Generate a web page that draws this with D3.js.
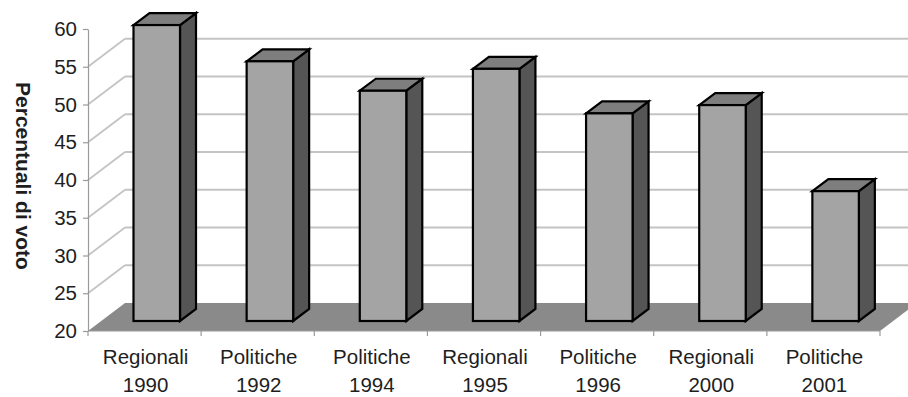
<!DOCTYPE html>
<html>
<head>
<meta charset="utf-8">
<script src="https://cdn.jsdelivr.net/npm/d3@7"></script>
<style>
  html, body { margin: 0; padding: 0; background: #fff; }
  svg { display: block; }
  text { font-family: "Liberation Sans", Arial, sans-serif; fill: #1e1e1e; }
</style>
</head>
<body>
<svg id="chart" width="908" height="397"></svg>
<script>
// ---- data ----
const categoryType = ["Regionali", "Politiche", "Politiche", "Regionali", "Politiche", "Regionali", "Politiche"];
const categoryYear = ["1990", "1992", "1994", "1995", "1996", "2000", "2001"];
const values = [59.2, 54.4, 50.5, 53.4, 47.5, 48.6, 37.2];
const yTicks = [20, 25, 30, 35, 40, 45, 50, 55, 60];
const yTitle = "Percentuali di voto";

// ---- layout ----
const W = 908, H = 397;
const plotLeft = 88, plotRight = 880, plotBottom = 331, plotTop = 29;
const depthX = 37, depthY = 28;          // floor / wall depth
const barZy = 10;                        // bar front face offset (y)
const barDx = 16, barDy = 12;            // bar depth
const barOffset = 45.5, barW = 46.5;

const svg = d3.select("#chart");
const cats = categoryType.map((t, i) => t + " " + categoryYear[i]);

const y = d3.scaleLinear().domain([20, 60]).range([plotBottom, plotTop]);
const x = d3.scaleBand().domain(cats).range([plotLeft, plotRight]);

// floor
svg.append("polygon")
  .attr("points", [[plotLeft, plotBottom], [plotRight, plotBottom], [plotRight + depthX, plotBottom - depthY], [plotLeft + depthX, plotBottom - depthY]].join(" "))
  .attr("fill", "#8a8a8a");

// gridlines (back wall + side wall)
const gridVals = yTicks.filter(v => v > 20 && v < 60);
const grid = svg.append("g").attr("stroke", "#c4c4c4").attr("stroke-width", 1.8).attr("fill", "none");
gridVals.forEach(v => {
  grid.append("line").attr("x1", plotLeft + depthX).attr("x2", W + 20)
    .attr("y1", y(v) - depthY).attr("y2", y(v) - depthY);
  grid.append("line").attr("x1", plotLeft).attr("x2", plotLeft + depthX)
    .attr("y1", y(v)).attr("y2", y(v) - depthY);
});

// bars
const bars = svg.append("g").attr("stroke", "#000").attr("stroke-width", 2.2).attr("stroke-linejoin", "miter");
cats.forEach((c, i) => {
  const x0 = x(c) + barOffset, x1 = x0 + barW;
  const yb = y(20) - barZy, yt = y(values[i]) - barZy;
  bars.append("polygon")
    .attr("points", [[x1, yt], [x1 + barDx, yt - barDy], [x1 + barDx, yb - barDy], [x1, yb]].join(" "))
    .attr("fill", "#555555");
  bars.append("polygon")
    .attr("points", [[x0, yt], [x1, yt], [x1 + barDx, yt - barDy], [x0 + barDx, yt - barDy]].join(" "))
    .attr("fill", "#7e7e7e");
  bars.append("rect")
    .attr("x", x0).attr("y", yt).attr("width", barW).attr("height", yb - yt)
    .attr("fill", "#a4a4a4");
});

// y axis
const yAxis = svg.append("g")
  .attr("transform", `translate(${plotLeft},0)`)
  .call(d3.axisLeft(y).tickValues(yTicks).tickSizeInner(5).tickSizeOuter(0).tickPadding(6));
yAxis.select(".domain").attr("stroke", "#9a9a9a").attr("stroke-width", 1.2);
yAxis.selectAll(".tick line").attr("stroke", "#9a9a9a").attr("stroke-width", 1.2);
yAxis.selectAll(".tick text")
  .style("font-family", '"Liberation Sans", Arial, sans-serif')
  .style("font-size", "20.5px").attr("fill", "#1e1e1e");

// x axis line + boundary ticks
const xg = svg.append("g").attr("stroke", "#9a9a9a").attr("stroke-width", 1.2);
xg.append("line").attr("x1", plotLeft).attr("x2", plotRight).attr("y1", plotBottom).attr("y2", plotBottom);
const bounds = cats.map(c => x(c)).concat([x.range()[1]]);
bounds.forEach(b => {
  xg.append("line").attr("x1", b).attr("x2", b).attr("y1", plotBottom).attr("y2", plotBottom + 5);
});

// x labels
cats.forEach((c, i) => {
  const cx = x(c) + x.bandwidth() / 2 + 1;
  const t = svg.append("text").attr("text-anchor", "middle").style("font-size", "20.5px");
  t.append("tspan").attr("x", cx).attr("y", 364).text(categoryType[i]);
  t.append("tspan").attr("x", cx).attr("y", 392).text(categoryYear[i]);
});

// y title
svg.append("text")
  .attr("transform", "translate(16,176) rotate(90)")
  .attr("text-anchor", "middle")
  .style("font-size", "21px").style("font-weight", "bold")
  .text(yTitle);
</script>
</body>
</html>
